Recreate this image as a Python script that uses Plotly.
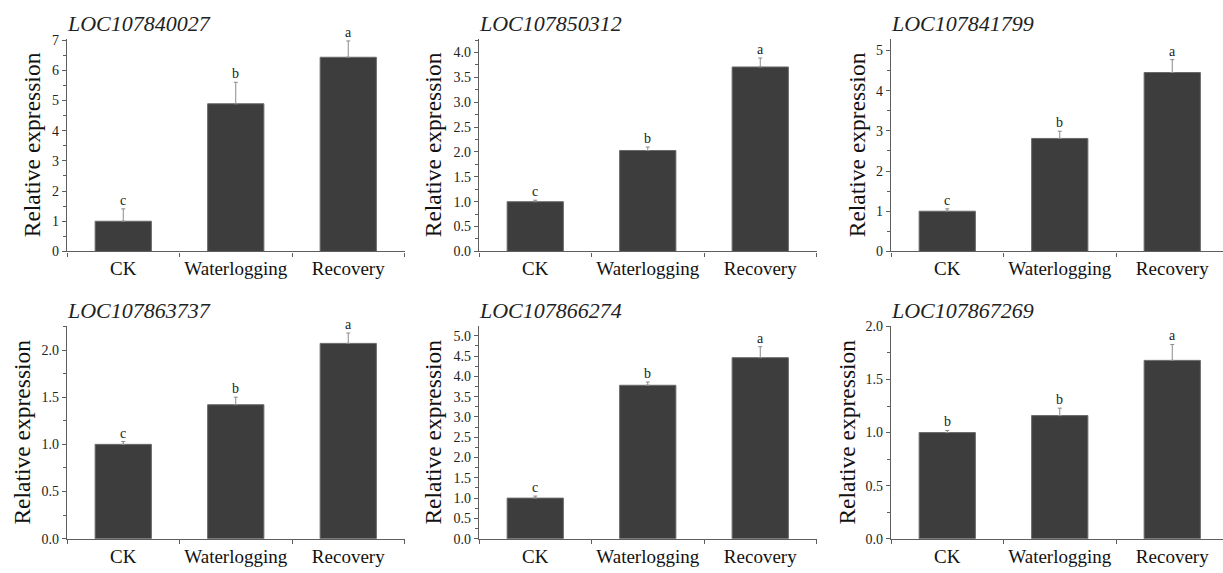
import plotly.graph_objects as go

categories = ["CK", "Waterlogging", "Recovery"]
genes = ["LOC107840027", "LOC107850312", "LOC107841799",
         "LOC107863737", "LOC107866274", "LOC107867269"]

mean_840027 = [1.00, 4.89, 6.43]
sd_840027 = [0.41, 0.71, 0.54]
mean_850312 = [1.00, 2.03, 3.71]
sd_850312 = [0.03, 0.07, 0.18]
mean_841799 = [1.00, 2.81, 4.45]
sd_841799 = [0.06, 0.18, 0.32]
mean_863737 = [1.00, 1.42, 2.07]
sd_863737 = [0.03, 0.08, 0.11]
mean_866274 = [1.00, 3.78, 4.46]
sd_866274 = [0.05, 0.08, 0.27]
mean_867269 = [1.00, 1.16, 1.68]
sd_867269 = [0.02, 0.07, 0.15]

letters_840027 = ["c", "b", "a"]
letters_850312 = ["c", "b", "a"]
letters_841799 = ["c", "b", "a"]
letters_863737 = ["c", "b", "a"]
letters_866274 = ["c", "b", "a"]
letters_867269 = ["b", "b", "a"]

means = [mean_840027, mean_850312, mean_841799, mean_863737, mean_866274, mean_867269]
sds = [sd_840027, sd_850312, sd_841799, sd_863737, sd_866274, sd_867269]
letters = [letters_840027, letters_850312, letters_841799,
           letters_863737, letters_866274, letters_867269]

# axis config (presentation)
y_ranges = [[0, 7.03], [0, 4.27], [0, 5.28], [0, 2.25], [0, 5.23], [0, 2.0]]
y_dticks = [1, 0.5, 1, 0.5, 0.5, 0.5]
y_formats = ["d", ".1f", "d", ".1f", ".1f", ".1f"]

W, H = 1223, 573
col_px = [(67, 404.5), (479, 816.5), (891, 1223)]
row_px = [(33, 251), (328, 546)]
ytitle_cx = [32, 433, 857, 22, 433, 847]

FONT = "Liberation Serif, Times New Roman, Times, serif"
AXIS_COLOR = "#5e5e5e"
BAR_COLOR = "#3d3d3d"

fig = go.Figure()
annotations = []

for i in range(6):
    r, c = divmod(i, 3)
    x0, x1 = col_px[c]
    y0, y1 = row_px[r]
    n = i + 1
    xa = "x" if n == 1 else f"x{n}"
    ya = "y" if n == 1 else f"y{n}"
    fig.add_trace(go.Bar(
        x=categories, y=means[i], xaxis=xa, yaxis=ya, width=0.5,
        marker=dict(color=BAR_COLOR, line=dict(color="#6a6a6a", width=1)),
        error_y=dict(type="data", symmetric=False, array=sds[i],
                     arrayminus=[0] * 3, color="#8a8a8a", thickness=1, width=2),
        showlegend=False, hoverinfo="skip",
    ))
    span = (x1 - x0) / 112.5
    xr = [-0.5, -0.5 + span]
    fig.layout[f"xaxis{'' if n == 1 else n}"] = dict(
        domain=[x0 / W, x1 / W], anchor=ya, type="category",
        range=xr, showline=True, linecolor=AXIS_COLOR, linewidth=1.3,
        ticks="outside", tickson="boundaries", ticklen=4, tickcolor=AXIS_COLOR,
        tickfont=dict(family=FONT, size=19, color="#111"),
        showgrid=False, zeroline=False, fixedrange=True,
    )
    fig.layout[f"yaxis{'' if n == 1 else n}"] = dict(
        domain=[1 - y1 / H, 1 - y0 / H], anchor=xa,
        range=y_ranges[i], dtick=y_dticks[i], tick0=0, tickformat=y_formats[i],
        showline=True, linecolor=AXIS_COLOR, linewidth=1.3,
        ticks="outside", ticklen=4, tickcolor=AXIS_COLOR,
        minor=dict(dtick=y_dticks[i] / 2, ticks="outside", ticklen=2.5,
                   tickcolor=AXIS_COLOR),
        tickfont=dict(family=FONT, size=14, color="#222"),
        showgrid=False, zeroline=False, fixedrange=True,
    )
    annotations.append(dict(
        text=genes[i], xref="paper", yref="paper", x=(x0 - 2) / W, y=1 - (y0 - 1) / H,
        xanchor="left", yanchor="bottom", showarrow=False,
        font=dict(family=FONT, size=22, color="#222", style="italic"),
    ))
    annotations.append(dict(
        text="Relative expression", xref="paper", yref="paper",
        x=ytitle_cx[i] / W, y=1 - ((y0 + y1) / 2) / H, textangle=-90,
        xanchor="center", yanchor="middle", showarrow=False,
        font=dict(family=FONT, size=23.5, color="#111"),
    ))
    for k, cat in enumerate(categories):
        annotations.append(dict(
            text=letters[i][k], x=cat, y=means[i][k] + sds[i][k],
            xref=xa, yref=ya, xanchor="center", yanchor="bottom",
            showarrow=False, yshift=-1,
            font=dict(family=FONT, size=14, color="#222"),
        ))

fig.update_layout(
    width=W, height=H, margin=dict(l=0, r=0, t=0, b=0),
    paper_bgcolor="white", plot_bgcolor="white",
    annotations=annotations, bargap=0.5,
    font=dict(family=FONT),
)

fig.write_html("out.html", config={"displayModeBar": False},
               post_script="document.body.style.margin='0px';")
